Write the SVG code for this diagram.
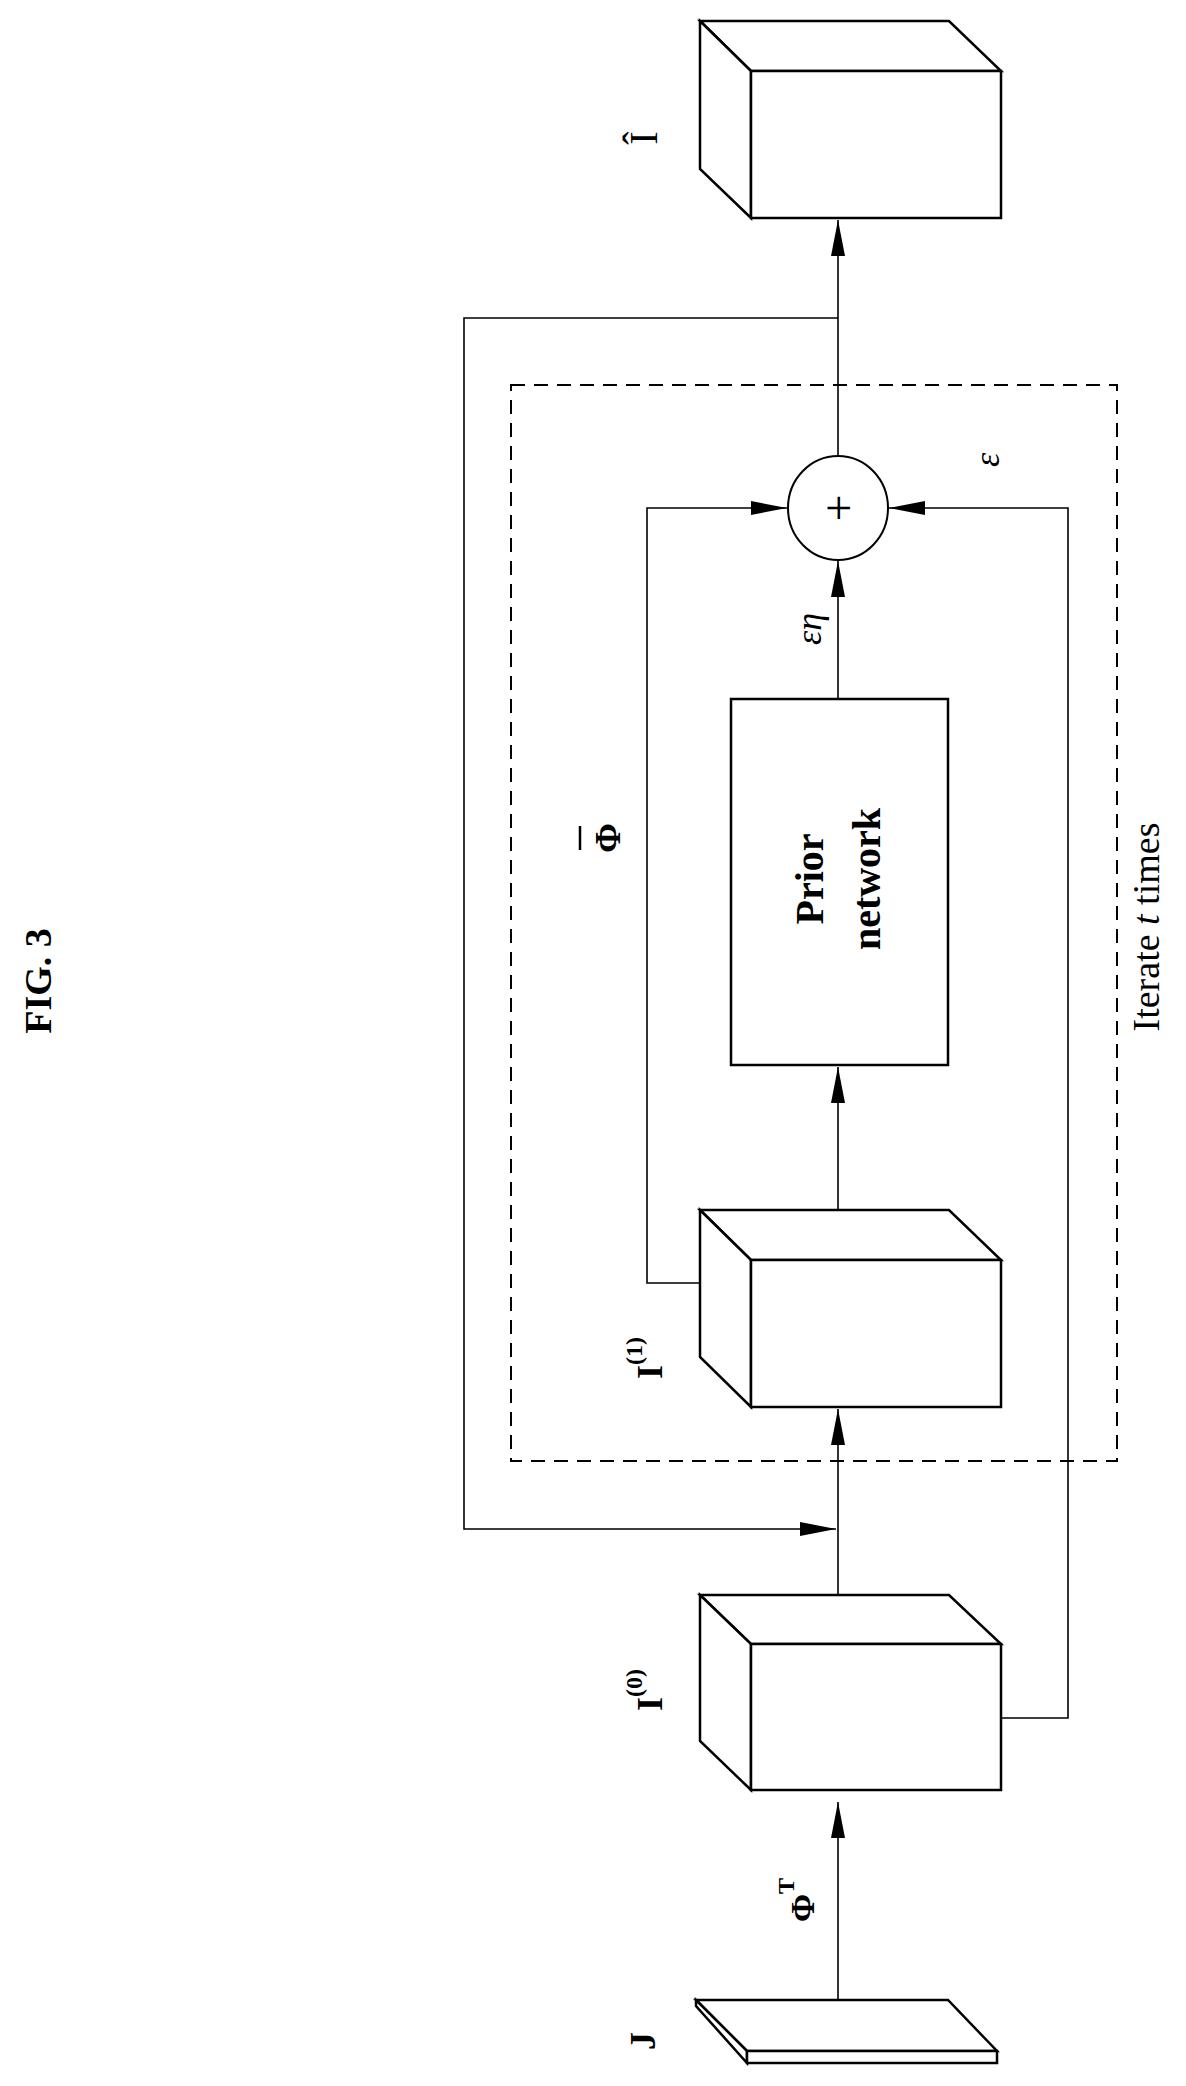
<svg xmlns="http://www.w3.org/2000/svg" width="1186" height="2086" viewBox="0 0 1186 2086">
<style>
.box{fill:#fff;stroke:#000;stroke-width:2.5;stroke-linejoin:miter}
.ln{fill:none;stroke:#000;stroke-width:1.6}
.t{font-family:"Liberation Serif",serif;fill:#000;text-anchor:middle;dominant-baseline:central}
</style>
<defs>
<marker id="a" viewBox="0 0 36 14" refX="36" refY="7" markerWidth="36" markerHeight="14" markerUnits="userSpaceOnUse" orient="auto">
<path d="M0,0 L36,7 L0,14 Z"/>
</marker>
</defs>
<text class="t" font-weight="bold" font-size="38" transform="translate(38,981) rotate(-90)">FIG. 3</text>
<g id="connectors">
<line class="ln" x1="838" y1="2000" x2="838" y2="1802" marker-end="url(#a)"/>
<line class="ln" x1="838" y1="1595" x2="838" y2="1409" marker-end="url(#a)"/>
<polyline class="ln" points="838,318 464,318 464,1529 836,1529" marker-end="url(#a)"/>
<line class="ln" x1="838" y1="1210" x2="838" y2="1067" marker-end="url(#a)"/>
<line class="ln" x1="838" y1="699" x2="838" y2="561" marker-end="url(#a)"/>
<line class="ln" x1="838" y1="455" x2="838" y2="220" marker-end="url(#a)"/>
<polyline class="ln" points="700,1283 647,1283 647,508 787,508" marker-end="url(#a)"/>
<polyline class="ln" points="1001,1718 1068,1718 1068,508 889,508" marker-end="url(#a)"/>
</g>
<g id="loop">
<rect x="511" y="385" width="606" height="1076" fill="none" stroke="#000" stroke-width="2" stroke-dasharray="14,9"/>
<text class="t" font-size="38" transform="translate(1146,927) rotate(-90)">Iterate  <tspan font-style="italic">t</tspan> times</text>
</g>
<g id="J">
<polygon class="box" points="696,2000 948,2000 997,2051 747,2051"/>
<polygon class="box" points="696,2000 747,2051 747,2063 696,2006"/>
<rect class="box" x="747" y="2051" width="250" height="12"/>
<text class="t" font-weight="bold" font-size="36" transform="translate(643,2041) rotate(-90)">J</text>
</g>
<text class="t" font-weight="bold" font-size="34" transform="translate(802,1900) rotate(-90)">Φ<tspan font-size="24" dy="-16">T</tspan></text>
<g id="I0">
<polygon class="box" points="700,1595 949,1595 1001,1644 751,1644"/>
<polygon class="box" points="700,1595 751,1644 751,1790 700,1741"/>
<rect class="box" x="751" y="1644" width="250" height="146"/>
<text class="t" font-weight="bold" font-size="36" transform="translate(650,1690) rotate(-90)">I<tspan font-size="24" dy="-16">(0)</tspan></text>
</g>
<g id="I1">
<polygon class="box" points="700,1210 949,1210 1001,1260 751,1260"/>
<polygon class="box" points="700,1210 751,1260 751,1407 700,1357"/>
<rect class="box" x="751" y="1260" width="250" height="147"/>
<text class="t" font-weight="bold" font-size="36" transform="translate(650,1358) rotate(-90)">I<tspan font-size="24" dy="-16">(1)</tspan></text>
</g>
<g id="prior">
<rect class="box" x="731" y="699" width="217" height="366"/>
<text class="t" font-weight="bold" font-size="40" transform="translate(809,879) rotate(-90)">Prior</text>
<text class="t" font-weight="bold" font-size="40" transform="translate(866,879) rotate(-90)">network</text>
</g>
<g id="phibar">
<text class="t" font-weight="bold" font-size="36" transform="translate(608,838) rotate(-90)">Φ</text>
<line x1="580" y1="826" x2="580" y2="850" stroke="#000" stroke-width="2.5"/>
</g>
<text class="t" font-style="italic" font-size="36" transform="translate(809,629) rotate(-90)">εη</text>
<text class="t" font-style="italic" font-size="36" transform="translate(987,460) rotate(-90)">ε</text>
<g id="sum">
<ellipse cx="838" cy="508" rx="50" ry="52" fill="#fff" stroke="#000" stroke-width="2"/>
<text class="t" font-size="48" transform="translate(838,508) rotate(-90)">+</text>
</g>
<g id="Ihat">
<polygon class="box" points="700,21 949,21 1001,71 751,71"/>
<polygon class="box" points="700,21 751,71 751,218 700,169"/>
<rect class="box" x="751" y="71" width="250" height="147"/>
<text class="t" font-size="40" transform="translate(643,138) rotate(-90)">Î</text>
</g>
</svg>
